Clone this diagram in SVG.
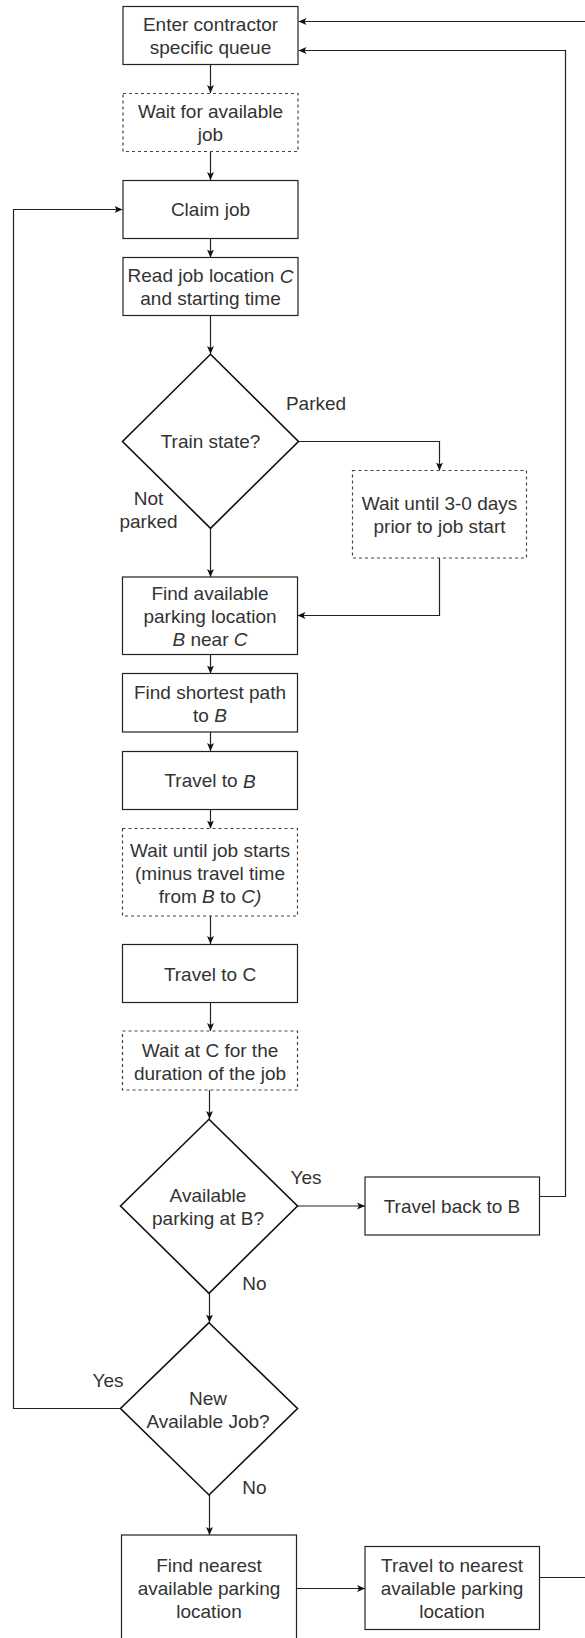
<svg xmlns="http://www.w3.org/2000/svg" width="585" height="1638" viewBox="0 0 585 1638">
<style>
.box{fill:#fff;stroke:#222;stroke-width:1.2}
.dash{fill:#fff;stroke:#444;stroke-width:1.2;stroke-dasharray:3 3}
.dia{fill:#fff;stroke:#111;stroke-width:1.6}
.t{font-family:"Liberation Sans",Arial,sans-serif;font-size:19px;fill:#333;text-anchor:middle;dominant-baseline:central}
.c{fill:none;stroke:#222;stroke-width:1.2}
.i{font-style:italic}
</style>
<defs>
<marker id="ah" markerUnits="userSpaceOnUse" markerWidth="10" markerHeight="10" refX="8" refY="4" orient="auto">
<path d="M0,0.5 L8,4 L0,7.5 L2,4 Z" fill="#111"/>
</marker>
</defs>
<rect width="585" height="1638" fill="#fff"/>
<g id="connectors">
<path class="c" d="M210.5,64 V93" marker-end="url(#ah)"/>
<path class="c" d="M210.5,151.3 V180" marker-end="url(#ah)"/>
<path class="c" d="M210.5,238.7 V257.5" marker-end="url(#ah)"/>
<path class="c" d="M210.5,315.7 V354" marker-end="url(#ah)"/>
<path class="c" d="M298.5,441.5 H439.5 V470.5" marker-end="url(#ah)"/>
<path class="c" d="M210.5,528.3 V577" marker-end="url(#ah)"/>
<path class="c" d="M439.5,558 V615.5 H297.5" marker-end="url(#ah)"/>
<path class="c" d="M210.5,654.7 V673.5" marker-end="url(#ah)"/>
<path class="c" d="M210.5,732 V751" marker-end="url(#ah)"/>
<path class="c" d="M210.5,809.3 V828.5" marker-end="url(#ah)"/>
<path class="c" d="M210.5,916 V944" marker-end="url(#ah)"/>
<path class="c" d="M210.5,1002.7 V1031" marker-end="url(#ah)"/>
<path class="c" d="M209.5,1090 V1119" marker-end="url(#ah)"/>
<path class="c" d="M297.5,1206 H365" marker-end="url(#ah)"/>
<path class="c" d="M539.5,1196.5 H565.5 V50.5 H298.5" marker-end="url(#ah)"/>
<path class="c" d="M585,21.5 H298.5" marker-end="url(#ah)"/>
<path class="c" d="M209.5,1293.3 V1322.5" marker-end="url(#ah)"/>
<path class="c" d="M120.5,1408.5 H13.5 V209.5 H122.5" marker-end="url(#ah)"/>
<path class="c" d="M209.5,1495 V1535" marker-end="url(#ah)"/>
<path class="c" d="M297,1588.5 H365" marker-end="url(#ah)"/>
<path class="c" d="M539.5,1577.5 H585"/>
</g>
<g id="enter-queue">
<rect class="box" x="123" y="6.5" width="175" height="58"/>
<text class="t" x="210.5" y="24">Enter contractor</text>
<text class="t" x="210.5" y="47">specific queue</text>
</g>
<g id="wait-job">
<rect class="dash" x="123" y="93.5" width="175" height="58"/>
<text class="t" x="210.5" y="111">Wait for available</text>
<text class="t" x="210.5" y="134.5">job</text>
</g>
<g id="claim-job">
<rect class="box" x="123" y="180.5" width="175" height="58"/>
<text class="t" x="210.5" y="209.5">Claim job</text>
</g>
<g id="read-job">
<rect class="box" x="123" y="257.5" width="175" height="58"/>
<text class="t" x="210.5" y="275.5">Read job location <tspan class="i">C</tspan></text>
<text class="t" x="210.5" y="298.5">and starting time</text>
</g>
<g id="train-state">
<polygon class="dia" points="210.5,354.3 298.5,441.5 210.5,528.3 122.5,441.5"/>
<text class="t" x="210.5" y="441.5">Train state?</text>
</g>
<g id="wait-days">
<rect class="dash" x="352.5" y="470.5" width="174" height="87.5"/>
<text class="t" x="439.5" y="503">Wait until 3-0 days</text>
<text class="t" x="439.5" y="526.5">prior to job start</text>
</g>
<g id="find-parking">
<rect class="box" x="122.5" y="577" width="175" height="77.5"/>
<text class="t" x="210" y="593">Find available</text>
<text class="t" x="210" y="616">parking location</text>
<text class="t" x="210" y="639"><tspan class="i">B</tspan> near <tspan class="i">C</tspan></text>
</g>
<g id="shortest-path">
<rect class="box" x="122.5" y="673.5" width="175" height="58.5"/>
<text class="t" x="210" y="692">Find shortest path</text>
<text class="t" x="210" y="715">to <tspan class="i">B</tspan></text>
</g>
<g id="travel-b">
<rect class="box" x="122.5" y="751.5" width="175" height="58"/>
<text class="t" x="210" y="780.5">Travel to <tspan class="i">B</tspan></text>
</g>
<g id="wait-start">
<rect class="dash" x="122.5" y="828.5" width="175" height="87.5"/>
<text class="t" x="210" y="850">Wait until job starts</text>
<text class="t" x="210" y="873">(minus travel time</text>
<text class="t" x="210" y="896">from <tspan class="i">B</tspan> to <tspan class="i">C)</tspan></text>
</g>
<g id="travel-c">
<rect class="box" x="122.5" y="944.5" width="175" height="58"/>
<text class="t" x="210" y="974">Travel to C</text>
</g>
<g id="wait-c">
<rect class="dash" x="122.5" y="1031" width="175" height="59"/>
<text class="t" x="210" y="1050">Wait at C for the</text>
<text class="t" x="210" y="1073">duration of the job</text>
</g>
<g id="parking-b">
<polygon class="dia" points="209,1119.3 297.5,1206 209,1293.3 120.5,1206"/>
<text class="t" x="208" y="1195">Available</text>
<text class="t" x="208" y="1218">parking at B?</text>
</g>
<g id="travel-back">
<rect class="box" x="365" y="1177" width="174.5" height="58"/>
<text class="t" x="452" y="1206.5">Travel back to B</text>
</g>
<g id="new-job">
<polygon class="dia" points="209,1322.7 297.5,1408.5 209,1495 120.5,1408.5"/>
<text class="t" x="208" y="1398">New</text>
<text class="t" x="208" y="1421.5">Available Job?</text>
</g>
<g id="find-nearest">
<rect class="box" x="121.5" y="1535" width="175" height="110"/>
<text class="t" x="209" y="1565.5">Find nearest</text>
<text class="t" x="209" y="1588.5">available parking</text>
<text class="t" x="209" y="1611.5">location</text>
</g>
<g id="travel-nearest">
<rect class="box" x="365" y="1546.5" width="174.5" height="83"/>
<text class="t" x="452" y="1565.5">Travel to nearest</text>
<text class="t" x="452" y="1588.5">available parking</text>
<text class="t" x="452" y="1611.5">location</text>
</g>
<g id="labels">
<text class="t" x="316" y="403">Parked</text>
<text class="t" x="148.5" y="498">Not</text>
<text class="t" x="148.5" y="521.5">parked</text>
<text class="t" x="306" y="1177">Yes</text>
<text class="t" x="254.5" y="1283">No</text>
<text class="t" x="108" y="1380">Yes</text>
<text class="t" x="254.5" y="1487">No</text>
</g>
</svg>
